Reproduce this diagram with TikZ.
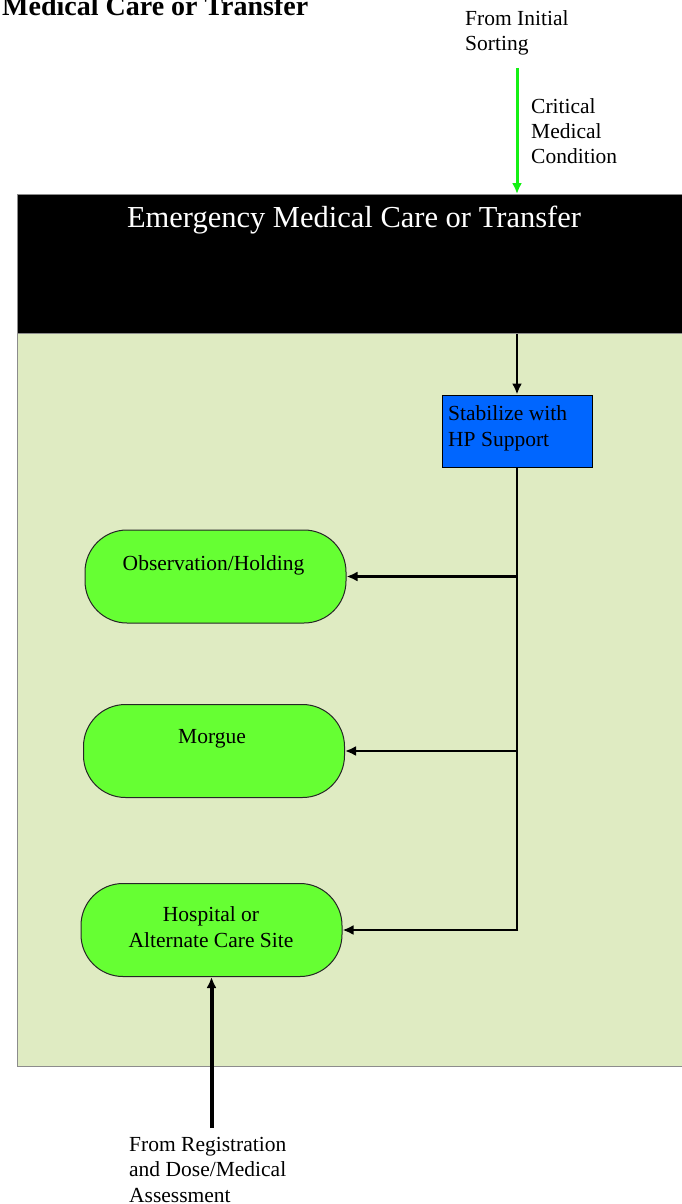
\documentclass[tikz,border=0pt]{standalone}
\usepackage{fontspec}
\setmainfont{Liberation Serif}
\usetikzlibrary{arrows.meta}
\definecolor{panelgreen}{RGB}{223,235,194}
\definecolor{termgreen}{RGB}{102,255,51}
\definecolor{stepblue}{RGB}{0,102,255}
\definecolor{flowgreen}{RGB}{20,240,20}
\tikzset{
  txt/.style={inner sep=0pt, font=\fontsize{21.5}{25.3}\selectfont},
  terminal/.style={draw=black!85, line width=1pt, fill=termgreen, rounded corners=42pt,
    minimum width=261pt, minimum height=93pt, inner sep=0pt},
  stepbox/.style={draw=black, line width=1pt, fill=stepblue,
    minimum width=150pt, minimum height=72pt, inner sep=0pt},
  flow/.style={line width=2.5pt, -{Latex[length=11pt,width=10pt]}},
  inflow/.style={line width=4pt, -{Latex[length=11pt,width=10pt]}},
  greenflow/.style={flowgreen, line width=3pt, -{Latex[length=11pt,width=10pt]}}
}
\begin{document}
\begin{tikzpicture}[x=1pt,y=-1pt]
\useasboundingbox (0,0) rectangle (681,1204);
\fill[white] (0,0) rectangle (681,1204);

% page heading, cut by the top edge
\node[anchor=base west, inner sep=0pt, font=\fontsize{28}{30}\selectfont\bfseries] (pagehead) at (2,16) {Medical Care or Transfer};

% swimlane: black header and light green body
\node[draw=black!45, line width=0.8pt, fill=panelgreen, anchor=north west, inner sep=0pt,
  minimum width=680pt, minimum height=733pt] (lane) at (17,333) {};
\node[draw=black!45, line width=0.8pt, fill=black, anchor=north west, inner sep=0pt,
  minimum width=680pt, minimum height=139pt] (header) at (17,194) {};
\node[anchor=base, inner sep=0pt, text=white, font=\fontsize{30.5}{32}\selectfont] (headtitle) at (354,227) {Emergency Medical Care or Transfer};

% incoming labels (base anchor sits on the last line)
\node[txt, anchor=base west, align=left] (fromsort) at (465,51) {From Initial\\Sorting};
\node[txt, anchor=base west, align=left] (critical) at (531,164) {Critical\\Medical\\Condition};
\node[txt, anchor=base west, align=left] (fromreg) at (129,1202) {From Registration\\and Dose/Medical\\Assessment};

% process steps
\node[stepbox] (stab) at (517,431) {};
\node[txt, anchor=base west, align=left] (stabT) at (448,446) {Stabilize with\\HP Support};

\node[terminal] (obs) at (215.5,576.5) {};
\node[txt, anchor=base] (obsT) at (213.5,570) {Observation/Holding};

\node[terminal] (morgue) at (214,751) {};
\node[txt, anchor=base] (morgueT) at (212,743) {Morgue};

\node[terminal] (hosp) at (211.5,930) {};
\node[txt, anchor=base, align=center] (hospT) at (211,947) {Hospital or\\Alternate Care Site};

% connectors
\coordinate (greenstart) at (517,68);
\draw[greenflow] (greenstart) -- (greenstart |- header.north);
\draw[flow] (stab.north |- header.south) -- (stab.north);
\draw[line width=2.5pt] (stab.south) -- (stab.south |- hosp.east);
\draw[flow] (stab.south |- obs.east) -- (obs.east);
\draw[flow] (stab.south |- morgue.east) -- (morgue.east);
\draw[flow] ([xshift=1.25pt]stab.south |- hosp.east) -- (hosp.east);
\coordinate (regstart) at (211.5,1128);
\draw[inflow] (regstart) -- (regstart |- hosp.south);
\end{tikzpicture}
\end{document}
